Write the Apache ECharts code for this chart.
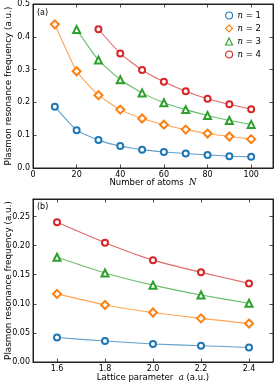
<!DOCTYPE html>
<html>
<head>
<meta charset="utf-8">
<script src="https://cdn.jsdelivr.net/npm/echarts@6/dist/echarts.min.js"></script>
<style>
  html, body { margin: 0; padding: 0; background: #fff; }
  #chart { width: 275px; height: 385px; }
</style>
</head>
<body>
<div id="chart"></div>
<script>
// panel (a): frequency vs number of atoms
const atomsN = [10, 20, 30, 40, 50, 60, 70, 80, 90, 100];
const freqN1 = [0.187, 0.115, 0.085, 0.067, 0.056, 0.049, 0.044, 0.040, 0.036, 0.034];
const freqN2 = [0.438, 0.295, 0.222, 0.178, 0.151, 0.132, 0.117, 0.105, 0.096, 0.088];
const freqN3 = [null, 0.422, 0.329, 0.269, 0.229, 0.199, 0.178, 0.160, 0.145, 0.133];
const freqN4 = [null, null, 0.423, 0.349, 0.299, 0.263, 0.234, 0.211, 0.194, 0.179];

// panel (b): frequency vs lattice parameter
const latticeA = [1.6, 1.8, 2.0, 2.2, 2.4];
const latN1 = [0.042, 0.036, 0.031, 0.028, 0.025];
const latN2 = [0.117, 0.098, 0.085, 0.075, 0.066];
const latN3 = [0.180, 0.153, 0.132, 0.115, 0.101];
const latN4 = [0.240, 0.205, 0.175, 0.154, 0.135];

const ticksAx = [0, 20, 40, 60, 80, 100];
const ticksAy = [0, 0.1, 0.2, 0.3, 0.4, 0.5];
const ticksBx = [1.6, 1.8, 2.0, 2.2, 2.4];
const ticksBy = [0, 0.05, 0.1, 0.15, 0.2, 0.25];

const names = ['n = 1', 'n = 2', 'n = 3', 'n = 4'];
const colors = ['#1f77b4', '#ff7f0e', '#2ca02c', '#d62728'];
const symbols = ['emptyCircle', 'emptyDiamond', 'emptyTriangle', 'emptyCircle'];
const icons = ['circle', 'diamond', 'triangle', 'circle'];
const symSizes = [6, 8, 7, 6];

const font = 'DejaVu Sans';
const axisColor = '#222';

function pairs(xs, ys) {
  return xs.map((x, i) => [x, ys[i]]).filter(p => p[1] != null);
}

function baseAxis(gridIndex, min, max, ticks, fmt, pos, showLabel) {
  return {
    type: 'value',
    show: true,
    gridIndex: gridIndex,
    position: pos,
    min: min,
    max: max,
    splitLine: { show: false },
    axisLine: { show: true, onZero: false, lineStyle: { color: axisColor, width: 1 } },
    axisTick: { show: true, inside: true, length: 3.5, customValues: ticks,
      lineStyle: { color: axisColor, width: 0.8 } },
    axisLabel: { show: showLabel, customValues: ticks, formatter: fmt || (v => ''),
      color: '#000', fontFamily: font, fontSize: 8, margin: 3 }
  };
}

function makeSeries(xs, ysList, xi, yi) {
  return ysList.map((ys, k) => ({
    name: names[k],
    type: 'line',
    xAxisIndex: xi,
    yAxisIndex: yi,
    data: pairs(xs, ys),
    smooth: 0.15,
    symbol: symbols[k],
    symbolSize: symSizes[k],
    color: colors[k],
    itemStyle: { color: colors[k], borderWidth: 1.1 },
    lineStyle: { color: colors[k], width: 1.1, opacity: 0.7 },
    emphasis: { disabled: true },
    z: 3 + k
  }));
}

const chart = echarts.init(document.getElementById('chart'), null, { renderer: 'canvas' });

const f1 = v => v.toFixed(1);
const f2 = v => v.toFixed(2);

const xA = baseAxis(0, 0, 110, ticksAx, v => String(v), 'bottom', true);
xA.name = '{t|Number of atoms  }{i|N}';
const xAtop = baseAxis(0, 0, 110, ticksAx, null, 'top', false);
const yA = baseAxis(0, 0, 0.5, ticksAy, f1, 'left', true);
const yAright = baseAxis(0, 0, 0.5, ticksAy, null, 'right', false);

const xB = baseAxis(1, 1.5, 2.5, ticksBx, f1, 'bottom', true);
xB.name = '{t|Lattice parameter  }{i|a}{t| (a.u.)}';
const xBtop = baseAxis(1, 1.5, 2.5, ticksBx, null, 'top', false);
const yB = baseAxis(1, 0, 0.28, ticksBy, f2, 'left', true);
const yBright = baseAxis(1, 0, 0.28, ticksBy, null, 'right', false);

const rich = {
  t: { fontFamily: font, fontSize: 8.5, color: '#000' },
  i: { fontFamily: 'DejaVu Serif', fontStyle: 'italic', fontSize: 8.5, color: '#000' }
};
xA.nameGap = 10;
xB.nameGap = 11;
[xA, xB].forEach(a => {
  a.nameLocation = 'middle';
  a.nameMoveOverlap = false;
  a.nameTextStyle = { rich: rich };
});
[yA, yB].forEach(a => {
  a.name = 'Plasmon resonance frequency (a.u.)';
  a.nameLocation = 'middle';
  a.nameGap = 20;
  a.nameMoveOverlap = false;
  a.nameTextStyle = { fontFamily: font, fontSize: 8.8, color: '#000' };
});

const option = {
  animation: false,
  backgroundColor: '#fff',
  grid: [
    { left: 33, top: 4, right: 2, height: 164, outerBoundsMode: 'none', containLabel: false,
      show: true, borderColor: axisColor, borderWidth: 1 },
    { left: 33, top: 199, right: 2, height: 163, outerBoundsMode: 'none', containLabel: false,
      show: true, borderColor: axisColor, borderWidth: 1 }
  ],
  xAxis: [xA, xAtop, xB, xBtop],
  yAxis: [yA, yAright, yB, yBright],
  legend: {
    left: 225,
    top: 11,
    padding: 0,
    orient: 'vertical',
    itemWidth: 7,
    itemHeight: 7,
    itemGap: 4,
    itemTextGap: 14,
    selectedMode: false,
    data: names.map((n, k) => ({
      name: n,
      icon: icons[k],
      itemStyle: { color: '#fff', borderColor: colors[k], borderWidth: 1.1 }
    })),
    formatter: n => '{i|n}{t|' + n.slice(1) + '}',
    textStyle: { rich: rich, lineHeight: 8 }
  },
  graphic: [
    { type: 'text', left: 37, top: 9, style: { text: '(a)', fontFamily: font, fontSize: 8, fill: '#000' } },
    { type: 'text', left: 37, top: 203, style: { text: '(b)', fontFamily: font, fontSize: 8, fill: '#000' } }
  ],
  series: [].concat(
    makeSeries(atomsN, [freqN1, freqN2, freqN3, freqN4], 0, 0),
    makeSeries(latticeA, [latN1, latN2, latN3, latN4], 2, 2)
  )
};

chart.setOption(option);
</script>
</body>
</html>
